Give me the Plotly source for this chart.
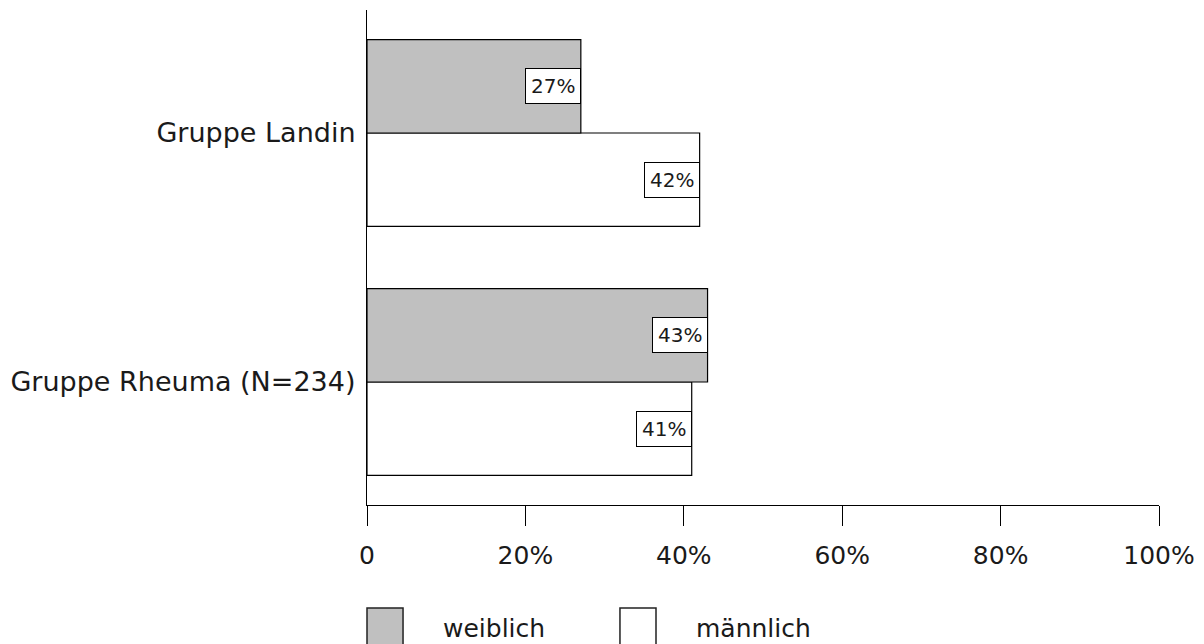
import plotly.graph_objects as go

# Categories, bottom to top
groups = ["Gruppe Rheuma (N=234)", "Gruppe Landin"]
series_names = ["weiblich", "männlich"]
weiblich = [43, 27]
maennlich = [41, 42]
series_colors = ["#c0c0c0", "#ffffff"]

tick_vals = [0, 20, 40, 60, 80, 100]
tick_text = ["0", "20%", "40%", "60%", "80%", "100%"]

FONT = "DejaVu Sans"
INK = "#1a1a1a"
BARGAP = 0.25

fig = go.Figure()
# männlich first so that it sits below weiblich inside each group
fig.add_trace(go.Bar(
    y=groups, x=maennlich, orientation="h", name=series_names[1],
    marker=dict(color=series_colors[1], line=dict(color="black", width=1.2)),
    showlegend=False, hoverinfo="skip",
))
fig.add_trace(go.Bar(
    y=groups, x=weiblich, orientation="h", name=series_names[0],
    marker=dict(color=series_colors[0], line=dict(color="black", width=1.2)),
    showlegend=False, hoverinfo="skip",
))

# value labels in framed boxes at the inner end of each bar
half = (1 - BARGAP) / 4
annotations = []
for i, g in enumerate(groups):
    for val, off in ((weiblich[i], half), (maennlich[i], -half)):
        annotations.append(dict(
            x=val, y=i + off, xref="x", yref="y",
            text=f"{val}%", showarrow=False, xanchor="right", yanchor="middle",
            font=dict(family=FONT, size=20, color=INK),
            bgcolor="white", bordercolor="black", borderwidth=1, borderpad=5,
        ))

# legend drawn below the axis with large swatches
shapes = []
legend_x = [0.0, 0.3194]
for name, color, lx in zip(series_names, series_colors, legend_x):
    shapes.append(dict(
        type="rect", xref="paper", yref="paper",
        x0=lx, x1=lx + 0.0455, y0=-0.208, y1=-0.285,
        fillcolor=color, line=dict(color="#222", width=1.5),
    ))
    annotations.append(dict(
        x=lx + 0.093, y=-0.2485, xref="paper", yref="paper",
        text=name, showarrow=False, xanchor="left", yanchor="middle",
        font=dict(family=FONT, size=25, color=INK),
    ))

fig.update_layout(
    width=1204, height=644,
    margin=dict(l=367, r=45, t=10, b=139, autoexpand=False),
    paper_bgcolor="white", plot_bgcolor="white",
    barmode="group", bargap=BARGAP, bargroupgap=0,
    font=dict(family=FONT, color=INK),
    annotations=annotations, shapes=shapes,
    xaxis=dict(
        range=[0, 100], tickvals=tick_vals, ticktext=tick_text,
        showline=True, linecolor="black", linewidth=1.2,
        ticks="outside", ticklen=20, tickcolor="black", tickwidth=1.2,
        showgrid=False, zeroline=False, automargin=False,
        ticklabelstandoff=8,
        tickfont=dict(family=FONT, size=25, color=INK),
        fixedrange=True,
    ),
    yaxis=dict(
        type="category", categoryorder="array", categoryarray=groups,
        range=[-0.494, 1.494],
        showline=True, linecolor="black", linewidth=1.2,
        ticks="", showgrid=False, zeroline=False, automargin=False,
        ticklabelstandoff=5,
        tickfont=dict(family=FONT, size=27, color=INK),
        fixedrange=True,
    ),
)

fig.write_html("out.html")
